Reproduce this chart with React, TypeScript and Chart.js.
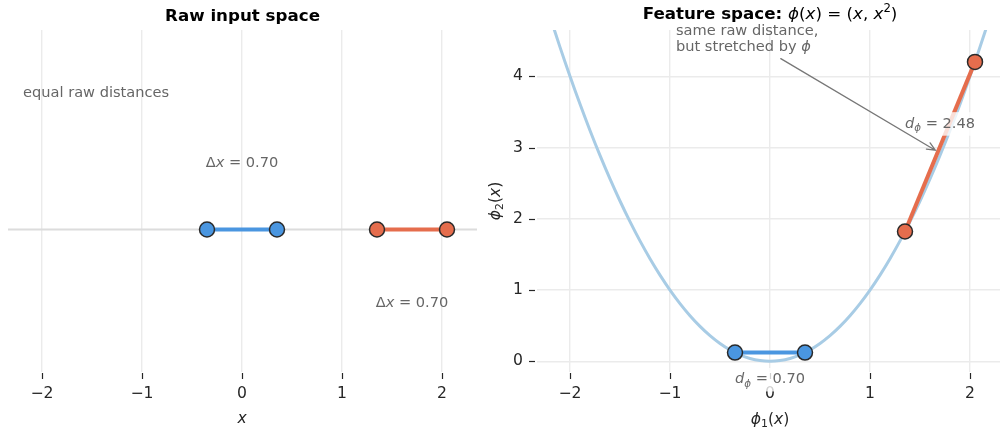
import { useEffect, useRef } from "react";
import { Chart, registerables } from "chart.js";

Chart.register(...registerables);

// Two pairs of raw inputs with identical spacing
const nearPair = [-0.35, 0.35];
const farPair = [1.35, 2.05];

// Tick positions
const xTicks = [-2, -1, 0, 1, 2];
const featureYTicks = [0, 1, 2, 3, 4];

// Axis ranges
const rawXRange = [-2.34, 2.35];
const rawYRange = [-0.5, 0.7];
const featXRange = [-2.33, 2.3];
const featYRange = [-0.15, 4.65];

// Inputs sampled for drawing the feature-map curve
const curveInputs = [
  -2.3, -2.2, -2.1, -2.0, -1.9, -1.8, -1.7, -1.6, -1.5, -1.4, -1.3, -1.2,
  -1.1, -1.0, -0.9, -0.8, -0.7, -0.6, -0.5, -0.4, -0.3, -0.2, -0.1, 0.0,
  0.1, 0.2, 0.3, 0.4, 0.5, 0.6, 0.7, 0.8, 0.9, 1.0, 1.1, 1.2, 1.3, 1.4,
  1.5, 1.6, 1.7, 1.8, 1.9, 2.0, 2.1, 2.2, 2.3,
];

const BLUE = "#4a96e0";
const RED = "#e56d4d";
const CURVE = "#a8cce5";
const GRID = "#ebebeb";
const BASELINE = "#dcdcdc";
const NOTE = "#666666";
const INK = "#262626";
const EDGE = "#2a2a2a";
const FONT = '"DejaVu Sans"';

const TITLE_SIZE = 16.7;
const TICK_SIZE = 15.6;
const NOTE_SIZE = 14.6;

// Feature map phi(x) = (x, x^2)
const phi = (x: number) => ({ x, y: x * x });
const dist = (a: { x: number; y: number }, b: { x: number; y: number }) =>
  Math.hypot(b.x - a.x, b.y - a.y);

type Run = { t: string; it?: boolean; bold?: boolean; sub?: boolean; sup?: boolean };

function runFont(r: Run, size: number) {
  const s = r.sub || r.sup ? size * 0.7 : size;
  return `${r.it ? "italic " : ""}${r.bold ? "bold " : ""}${s}px ${FONT}`;
}

function runsWidth(ctx: CanvasRenderingContext2D, runs: Run[], size: number) {
  let w = 0;
  for (const r of runs) {
    ctx.font = runFont(r, size);
    w += ctx.measureText(r.t).width;
  }
  return w;
}

// Draws mixed-style text; y is the baseline
function drawRuns(
  ctx: CanvasRenderingContext2D,
  runs: Run[],
  x: number,
  y: number,
  size: number,
  align: "left" | "center",
  color: string
) {
  const w = runsWidth(ctx, runs, size);
  let cx = align === "center" ? x - w / 2 : x;
  ctx.save();
  ctx.fillStyle = color;
  ctx.textAlign = "left";
  ctx.textBaseline = "alphabetic";
  for (const r of runs) {
    ctx.font = runFont(r, size);
    const dy = r.sub ? size * 0.22 : r.sup ? -size * 0.4 : 0;
    ctx.fillText(r.t, cx, y + dy);
    cx += ctx.measureText(r.t).width;
  }
  ctx.restore();
  return w;
}

// Centered label on a translucent white box
function boxedLabel(
  ctx: CanvasRenderingContext2D,
  runs: Run[],
  cx: number,
  cy: number,
  size: number
) {
  const w = runsWidth(ctx, runs, size);
  const base = cy + size * 0.4;
  ctx.save();
  ctx.fillStyle = "rgba(255,255,255,0.78)";
  ctx.fillRect(cx - w / 2 - 4, base - size * 0.85 - 3, w + 8, size * 1.2 + 6);
  ctx.restore();
  drawRuns(ctx, runs, cx, base, size, "center", NOTE);
}

const fmtTick = (v: number | string) => {
  const n = Number(v);
  return n < 0 ? "\u2212" + Math.abs(n) : String(n);
};

function xAxisOptions(range: number[]) {
  return {
    type: "linear",
    min: range[0],
    max: range[1],
    afterBuildTicks: (scale: any) => {
      scale.ticks = xTicks.map((v) => ({ value: v }));
    },
    afterFit: (scale: any) => {
      scale.height = 58;
    },
    grid: { color: GRID, lineWidth: 1.4, drawTicks: false },
    border: { display: false },
    ticks: {
      autoSkip: false,
      maxRotation: 0,
      padding: 13,
      color: INK,
      font: { family: FONT, size: TICK_SIZE },
      callback: fmtTick,
    },
  };
}

function drawXTickMarks(chart: any) {
  const { ctx, chartArea } = chart;
  const xs = chart.scales.x;
  ctx.save();
  ctx.strokeStyle = INK;
  ctx.lineWidth = 1.2;
  for (const v of xTicks) {
    const px = Math.round(xs.getPixelForValue(v)) + 0.5;
    ctx.beginPath();
    ctx.moveTo(px, chartArea.bottom + 1);
    ctx.lineTo(px, chartArea.bottom + 7);
    ctx.stroke();
  }
  ctx.restore();
}

function rawConfig(): any {
  const nearPts = nearPair.map((x) => ({ x, y: 0 }));
  const farPts = farPair.map((x) => ({ x, y: 0 }));
  const nearGap = nearPair[1] - nearPair[0];
  const farGap = farPair[1] - farPair[0];

  const notes = {
    id: "rawNotes",
    afterDraw(chart: any) {
      const { ctx, chartArea } = chart;
      const xs = chart.scales.x;
      const ys = chart.scales.y;
      drawXTickMarks(chart);

      drawRuns(ctx, [{ t: "Raw input space", bold: true }],
        (chartArea.left + chartArea.right) / 2, 20.5, TITLE_SIZE, "center", "#000");
      drawRuns(ctx, [{ t: "x", it: true }],
        xs.getPixelForValue(0), 423, TICK_SIZE, "center", INK);

      drawRuns(ctx, [{ t: "equal raw distances" }],
        xs.getPixelForValue(-2.19), ys.getPixelForValue(0.485) + NOTE_SIZE * 0.38,
        NOTE_SIZE, "left", NOTE);

      const nearMid = (nearPair[0] + nearPair[1]) / 2;
      const farMid = (farPair[0] + farPair[1]) / 2;
      drawRuns(ctx, [{ t: "\u0394" }, { t: "x", it: true }, { t: " = " + nearGap.toFixed(2) }],
        xs.getPixelForValue(nearMid), ys.getPixelForValue(0.24) + NOTE_SIZE * 0.4,
        NOTE_SIZE, "center", NOTE);
      drawRuns(ctx, [{ t: "\u0394" }, { t: "x", it: true }, { t: " = " + farGap.toFixed(2) }],
        xs.getPixelForValue(farMid), ys.getPixelForValue(-0.25) + NOTE_SIZE * 0.4,
        NOTE_SIZE, "center", NOTE);
    },
  };

  const pointStyle = (color: string) => ({
    borderColor: color,
    borderWidth: 4,
    pointRadius: 7.5,
    pointBackgroundColor: color,
    pointBorderColor: EDGE,
    pointBorderWidth: 1.5,
    showLine: true,
  });

  return {
    type: "scatter",
    data: {
      datasets: [
        { data: nearPts, ...pointStyle(BLUE), order: 1 },
        { data: farPts, ...pointStyle(RED), order: 1 },
        {
          data: [{ x: rawXRange[0], y: 0 }, { x: rawXRange[1], y: 0 }],
          showLine: true,
          borderColor: BASELINE,
          borderWidth: 2,
          pointRadius: 0,
          order: 3,
        },
      ],
    },
    options: {
      responsive: false,
      animation: false,
      events: [],
      layout: { autoPadding: false, padding: { left: 8, right: 3, top: 30, bottom: 0 } },
      plugins: { legend: { display: false }, tooltip: { enabled: false }, title: { display: false } },
      scales: {
        x: xAxisOptions(rawXRange),
        y: { type: "linear", display: false, min: rawYRange[0], max: rawYRange[1] },
      },
    },
    plugins: [notes],
  };
}

function featureConfig(): any {
  const curve = curveInputs.map(phi);
  const nearPts = nearPair.map(phi);
  const farPts = farPair.map(phi);
  const nearD = dist(nearPts[0], nearPts[1]);
  const farD = dist(farPts[0], farPts[1]);

  const notes = {
    id: "featureNotes",
    afterDraw(chart: any) {
      const { ctx, chartArea } = chart;
      const xs = chart.scales.x;
      const ys = chart.scales.y;
      drawXTickMarks(chart);

      // y tick marks
      ctx.save();
      ctx.strokeStyle = INK;
      ctx.lineWidth = 1.2;
      for (const v of featureYTicks) {
        const py = Math.round(ys.getPixelForValue(v)) + 0.5;
        ctx.beginPath();
        ctx.moveTo(chartArea.left - 8, py);
        ctx.lineTo(chartArea.left - 2, py);
        ctx.stroke();
      }
      ctx.restore();

      const cx = (chartArea.left + chartArea.right) / 2 + 1.5;
      drawRuns(ctx, [
        { t: "Feature space: ", bold: true },
        { t: "\u03D5", it: true }, { t: "(" }, { t: "x", it: true }, { t: ") = (" },
        { t: "x", it: true }, { t: ", " }, { t: "x", it: true }, { t: "2", sup: true }, { t: ")" },
      ], cx, 18.5, TITLE_SIZE, "center", "#000");

      drawRuns(ctx, [
        { t: "\u03D5", it: true }, { t: "1", sub: true }, { t: "(" }, { t: "x", it: true }, { t: ")" },
      ], xs.getPixelForValue(0), 424, TICK_SIZE, "center", INK);

      ctx.save();
      ctx.translate(20, (chartArea.top + chartArea.bottom) / 2);
      ctx.rotate(-Math.PI / 2);
      drawRuns(ctx, [
        { t: "\u03D5", it: true }, { t: "2", sub: true }, { t: "(" }, { t: "x", it: true }, { t: ")" },
      ], 0, 0, TICK_SIZE, "center", INK);
      ctx.restore();

      // distance labels
      const nm = { x: (nearPts[0].x + nearPts[1].x) / 2, y: (nearPts[0].y + nearPts[1].y) / 2 };
      const fm = { x: (farPts[0].x + farPts[1].x) / 2, y: (farPts[0].y + farPts[1].y) / 2 };
      boxedLabel(ctx, [{ t: "d", it: true }, { t: "\u03D5", it: true, sub: true }, { t: " = " + farD.toFixed(2) }],
        xs.getPixelForValue(fm.x), ys.getPixelForValue(fm.y + 0.35), NOTE_SIZE);
      boxedLabel(ctx, [{ t: "d", it: true }, { t: "\u03D5", it: true, sub: true }, { t: " = " + nearD.toFixed(2) }],
        xs.getPixelForValue(nm.x), ys.getPixelForValue(nm.y - 0.35), NOTE_SIZE);

      // callout text
      const tx = xs.getPixelForValue(-0.94);
      const base1 = 34.5;
      const base2 = 51;
      const w1 = drawRuns(ctx, [{ t: "same raw distance," }], tx, base1, NOTE_SIZE, "left", NOTE);
      const w2 = drawRuns(ctx, [{ t: "but stretched by " }, { t: "\u03D5", it: true }], tx, base2, NOTE_SIZE, "left", NOTE);
      const boxCx = tx + Math.max(w1, w2) / 2;
      const boxCy = (base1 - NOTE_SIZE * 0.8 + base2 + NOTE_SIZE * 0.25) / 2;
      const boxBottom = base2 + NOTE_SIZE * 0.25 + 2;

      // arrow toward the stretched segment
      const t = 0.47;
      const target = {
        x: xs.getPixelForValue(farPts[0].x + t * (farPts[1].x - farPts[0].x)),
        y: ys.getPixelForValue(farPts[0].y + t * (farPts[1].y - farPts[0].y)),
      };
      const dx = target.x - boxCx;
      const dy = target.y - boxCy;
      const len = Math.hypot(dx, dy);
      const ux = dx / len;
      const uy = dy / len;
      const s = (boxBottom + 2 - boxCy) / uy;
      const tail = { x: boxCx + ux * s, y: boxCy + uy * s };
      const tip = { x: target.x - ux * 3, y: target.y - uy * 3 };
      ctx.save();
      ctx.strokeStyle = "#777777";
      ctx.lineWidth = 1.3;
      ctx.lineCap = "round";
      ctx.beginPath();
      ctx.moveTo(tail.x, tail.y);
      ctx.lineTo(tip.x, tip.y);
      const hl = 9;
      const ang = 0.42;
      const a = Math.atan2(uy, ux);
      ctx.moveTo(tip.x - hl * Math.cos(a - ang), tip.y - hl * Math.sin(a - ang));
      ctx.lineTo(tip.x, tip.y);
      ctx.lineTo(tip.x - hl * Math.cos(a + ang), tip.y - hl * Math.sin(a + ang));
      ctx.stroke();
      ctx.restore();
    },
  };

  const pointStyle = (color: string) => ({
    borderColor: color,
    borderWidth: 4,
    pointRadius: 7.5,
    pointBackgroundColor: color,
    pointBorderColor: EDGE,
    pointBorderWidth: 1.5,
    showLine: true,
  });

  return {
    type: "scatter",
    data: {
      datasets: [
        { data: nearPts, ...pointStyle(BLUE), order: 1 },
        { data: farPts, ...pointStyle(RED), order: 1 },
        {
          data: curve,
          showLine: true,
          borderColor: CURVE,
          borderWidth: 3,
          pointRadius: 0,
          tension: 0.3,
          order: 3,
        },
      ],
    },
    options: {
      responsive: false,
      animation: false,
      events: [],
      layout: { autoPadding: false, padding: { left: 0, right: 0, top: 30, bottom: 0 } },
      plugins: { legend: { display: false }, tooltip: { enabled: false }, title: { display: false } },
      scales: {
        x: xAxisOptions(featXRange),
        y: {
          type: "linear",
          min: featYRange[0],
          max: featYRange[1],
          afterBuildTicks: (scale: any) => {
            scale.ticks = featureYTicks.map((v) => ({ value: v }));
          },
          afterFit: (scale: any) => {
            scale.width = 57;
          },
          grid: { color: GRID, lineWidth: 1.4, drawTicks: false },
          border: { display: false },
          ticks: {
            autoSkip: false,
            padding: 14,
            color: INK,
            font: { family: FONT, size: TICK_SIZE },
            callback: fmtTick,
          },
        },
      },
    },
    plugins: [notes],
  };
}

export default function App() {
  const leftRef = useRef<HTMLCanvasElement>(null);
  const rightRef = useRef<HTMLCanvasElement>(null);

  useEffect(() => {
    const raw = new Chart(leftRef.current!, rawConfig());
    const feat = new Chart(rightRef.current!, featureConfig());
    return () => {
      raw.destroy();
      feat.destroy();
    };
  }, []);

  return (
    <div style={{ position: "absolute", left: 0, top: 0, width: 1000, height: 430, background: "#fff" }}>
      <canvas
        ref={leftRef}
        width={480}
        height={430}
        style={{ position: "absolute", left: 0, top: 0, width: 480, height: 430 }}
      />
      <canvas
        ref={rightRef}
        width={520}
        height={430}
        style={{ position: "absolute", left: 480, top: 0, width: 520, height: 430 }}
      />
    </div>
  );
}
